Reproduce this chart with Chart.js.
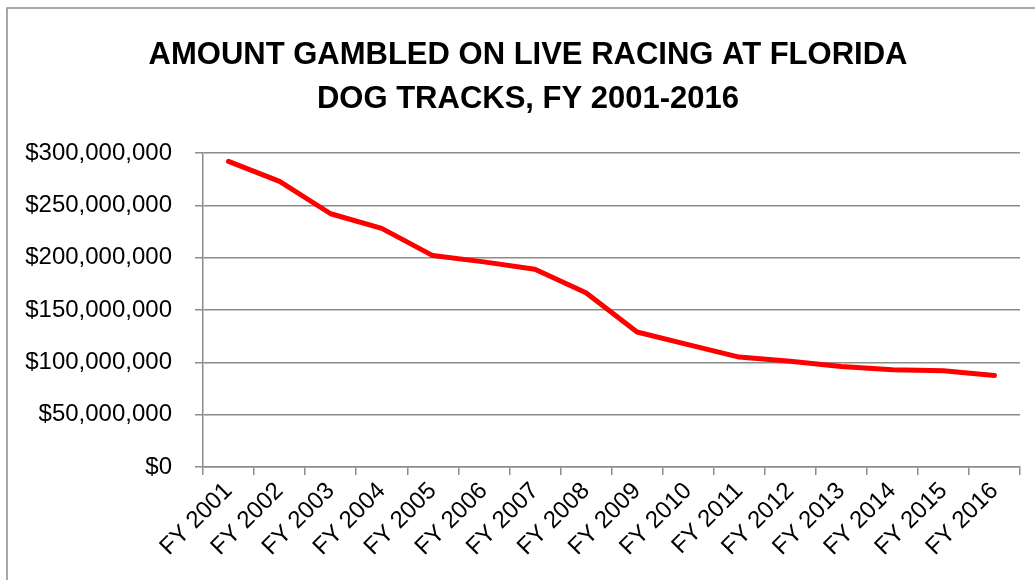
<!doctype html>
<html>
<head>
<meta charset="UTF-8">
<title>Live Racing Handle - Florida Dog Tracks</title>
<script src="https://cdn.jsdelivr.net/npm/chart.js@4.4.0/dist/chart.umd.min.js"></script>
<style>
body{
	margin:0;
	background:#fff;
}
#wrap{
	position:relative;
	width:1035px;
	height:580px;
}
</style>
</head>
<body>

<div id="wrap"><canvas id="LineChart" width="1035" height="580"></canvas></div>

<script>

// fiscal years and amount wagered (dollars)
var years = ["FY 2001","FY 2002","FY 2003","FY 2004","FY 2005","FY 2006","FY 2007","FY 2008",
             "FY 2009","FY 2010","FY 2011","FY 2012","FY 2013","FY 2014","FY 2015","FY 2016"];
var handle = [292000000, 273000000, 242000000, 228000000, 202000000, 196000000, 189000000, 166500000,
              129000000, 117000000, 105000000, 101000000, 96000000, 93000000, 92000000, 87500000];
var yTicks = [0, 50000000, 100000000, 150000000, 200000000, 250000000, 300000000];

var fontFam = '"Liberation Sans", Arial, sans-serif';
var gridCol = '#8c8c8c';

// thin frame round the whole chart, and title centred a bit right of the canvas middle
var frame = {
	id: 'frame',
	afterLayout: function(chart){
		var t = chart.titleBlock;
		if (t) { t.left = 36; t.right = 1020; }
	},
	afterDraw: function(chart){
		var c = chart.ctx;
		c.save();
		c.strokeStyle = gridCol;
		c.lineWidth = 1.5;
		c.strokeRect(7, 8, 1100, 700);
		c.restore();
	}
};

var ctx = document.getElementById("LineChart");
var LineChart = new Chart(ctx, {
  type: 'line',
  data: {
    labels: years,
    datasets: [{
        data: handle,
        borderColor: "#ff0000",
        borderWidth: 5,
        borderCapStyle: 'round',
        borderJoinStyle: 'round',
        pointRadius: 0,
        tension: 0,
        fill: false
      }
    ]
  },
  options: {
    responsive: false,
    animation: false,
    layout: {
      padding: {left: 0, right: 15, top: 0, bottom: 0}
    },
    plugins: {
      legend: {display: false},
      tooltip: {enabled: false},
      title: {
        display: true,
        text: ['AMOUNT GAMBLED ON LIVE RACING AT FLORIDA', 'DOG TRACKS, FY 2001-2016'],
        color: '#000',
        font: {family: fontFam, size: 31, weight: 'bold', lineHeight: 1.42},
        padding: {top: 33, bottom: 32}
      }
    },
    scales: {
      x: {
        offset: true,
        grid: {
          offset: true,
          drawOnChartArea: false,
          color: gridCol,
          lineWidth: 1.5,
          tickLength: 8
        },
        border: {color: gridCol, width: 1.5},
        ticks: {
          color: '#000',
          font: {family: fontFam, size: 24},
          minRotation: 45,
          maxRotation: 45,
          padding: 2
        },
        afterFit: function(scale){ scale.height = 113; }
      },
      y: {
        min: 0,
        max: 300000000,
        afterBuildTicks: function(scale){
          scale.ticks = yTicks.map(function(v){ return {value: v}; });
        },
        grid: {
          color: gridCol,
          lineWidth: 1.5,
          tickLength: 8
        },
        border: {color: gridCol, width: 1.5},
        ticks: {
          color: '#000',
          font: {family: fontFam, size: 24},
          padding: 23,
          callback: function(v){ return '$' + v.toLocaleString('en-US'); }
        },
        afterFit: function(scale){ scale.width = 203; }
      }
    }
  },
  plugins: [frame]
});

</script>

</body>
</html>
